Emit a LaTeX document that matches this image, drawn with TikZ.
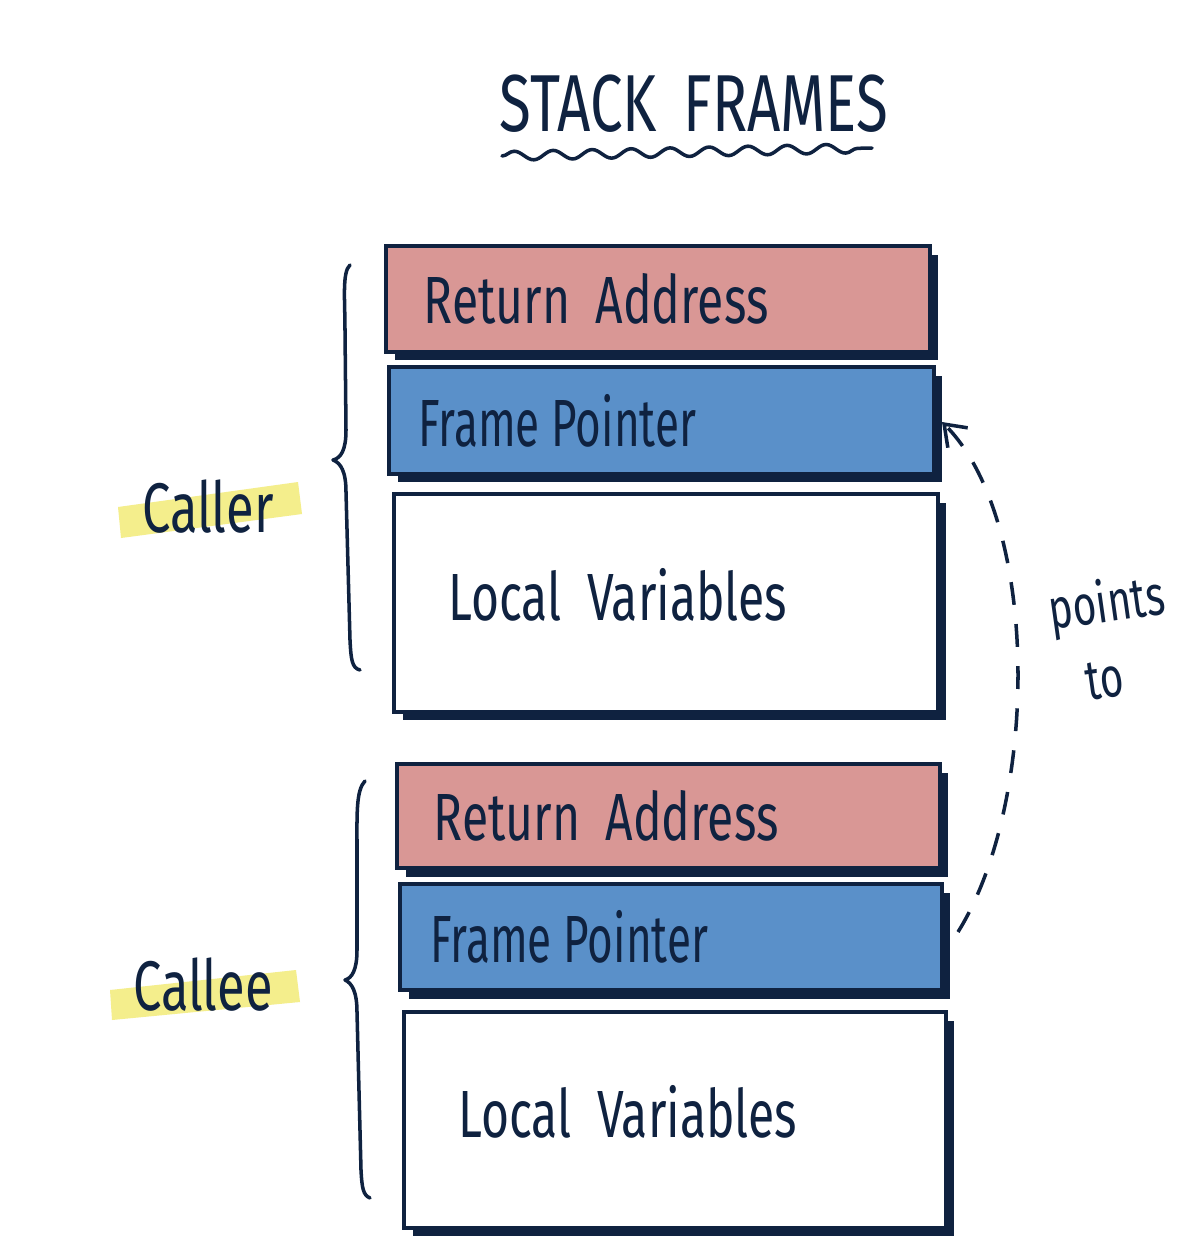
\documentclass[tikz,border=0pt]{standalone}
\usepackage{fontspec}
\newfontfamily\hand{Fira Sans}[FakeStretch=0.72]
\newfontfamily\handn{Fira Sans}[FakeStretch=0.66]
\usetikzlibrary{shadows,arrows.meta,decorations.pathmorphing}
\definecolor{navy}{HTML}{0F2240}
\definecolor{rapink}{HTML}{D99795}
\definecolor{fpblue}{HTML}{5A90C9}
\definecolor{hly}{HTML}{F4EE8C}
\tikzset{
  frame/.style={draw=navy, line width=2pt, inner sep=0pt,
    general shadow={fill=navy, shadow xshift=0.17cm, shadow yshift=-0.17cm}},
  rabox/.style={frame, fill=rapink},
  fpbox/.style={frame, fill=fpblue},
  lvbox/.style={frame, fill=white},
  lbl/.style={text=navy, font=\hand\fontsize{38}{40}\selectfont, inner sep=0pt, anchor=west},
  fplbl/.style={lbl, font=\handn\fontsize{38}{40}\selectfont},
  side/.style={text=navy, font=\hand\fontsize{40}{42}\selectfont, inner sep=0pt},
  small/.style={text=navy, font=\hand\fontsize{32}{34}\selectfont, inner sep=0pt},
  brace/.style={draw=navy, line width=2pt, line cap=round, line join=round},
  hl/.style={fill=hly},
  pointer/.style={draw=navy, line width=2pt, dash pattern=on 13pt off 11pt, -{Straight Barb[length=11pt,width=16pt,line width=2pt]}},
}
\begin{document}
\begin{tikzpicture}[x=0.02cm, y=-0.02cm]
\useasboundingbox (0,0) rectangle (1200,1245);
\fill[white] (0,0) rectangle (1200,1245);

% title
\node[text=navy, font=\hand\fontsize{46}{48}\selectfont, inner sep=0pt] (title) at (694,104) {STACK\hspace{0.33em}FRAMES};
\coordinate (ulA) at (502,156);
\coordinate (ulB) at (872,148);
\draw[navy, line width=2pt, line cap=round, decorate, decoration={snake, amplitude=0.09cm, segment length=0.78cm}] (ulA) -- (ulB);

% caller frame
\node[rabox, minimum width=10.88cm, minimum height=2.12cm] (ra1) at (658,299) {};
\node[fpbox, minimum width=10.9cm, minimum height=2.14cm] (fp1) at (661.5,420.5) {};
\node[lvbox, minimum width=10.88cm, minimum height=4.36cm] (lv1) at (666,603) {};
\node[lbl] (tra1) at ([xshift=0.78cm]ra1.west) {Return\ \ Address};
\node[fplbl] (tfp1) at ([xshift=0.62cm]fp1.west) {Frame Pointer};
\node[lbl] (tlv1) at ([xshift=1.12cm, yshift=0.16cm]lv1.west) {Local\ \ Variables};

% callee frame
\node[rabox, minimum width=10.86cm, minimum height=2.08cm] (ra2) at (668.5,816) {};
\node[fpbox, minimum width=10.84cm, minimum height=2.12cm] (fp2) at (671,937) {};
\node[lvbox, minimum width=10.84cm, minimum height=4.32cm] (lv2) at (675,1120) {};
\node[lbl] (tra2) at ([xshift=0.76cm]ra2.west) {Return\ \ Address};
\node[fplbl] (tfp2) at ([xshift=0.64cm]fp2.west) {Frame Pointer};
\node[lbl] (tlv2) at ([xshift=1.12cm, yshift=0.16cm]lv2.west) {Local\ \ Variables};

% braces
\draw[brace] (350,265) .. controls (342,272) and (345,300) .. (345,330) -- (346,430) .. controls (346,450) and (341,458) .. (333,460) .. controls (341,463) and (346,472) .. (346,492) -- (350,640) .. controls (351,660) and (352,668) .. (360,670);
\draw[brace] (365,781) .. controls (356,790) and (357,815) .. (357,845) -- (357,950) .. controls (357,970) and (352,978) .. (345,980) .. controls (352,983) and (357,992) .. (357,1012) -- (361,1170) .. controls (362,1188) and (363,1195) .. (370,1198);

% labels with highlight
\fill[hl] (118,507) -- (298,482) -- (302,514) -- (121,538) -- cycle;
\node[side] (caller) at (208,507) {Caller};
\fill[hl] (110,990) -- (296,970) -- (300,1002) -- (112,1020) -- cycle;
\node[side] (callee) at (203,985) {Callee};

% pointer
\coordinate (pstart) at (958,932);
\coordinate (pend) at (942,422);
\draw[pointer] (pstart) .. controls (1040,800) and (1040,520) .. (pend);
\node[small, rotate=8] (points) at (1107,606) {points};
\node[small, rotate=8] (to) at (1105,680) {to};
\end{tikzpicture}
\end{document}
